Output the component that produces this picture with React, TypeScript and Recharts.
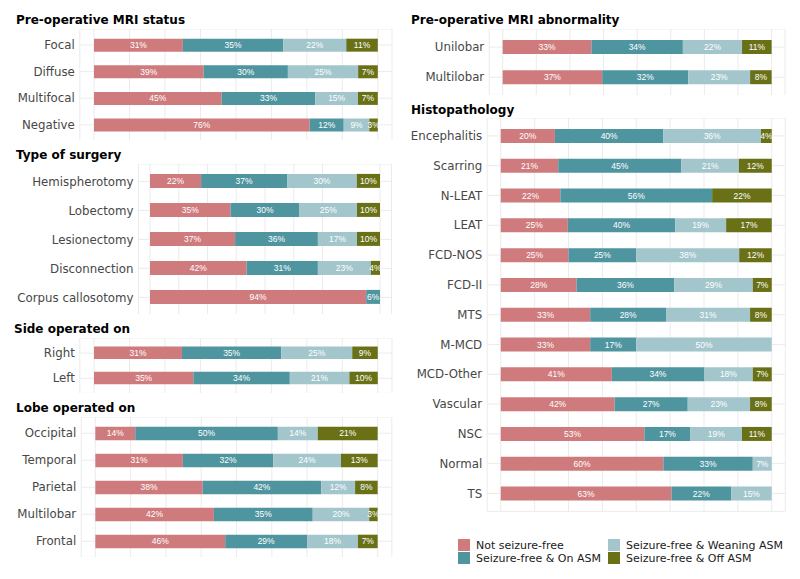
import React from 'react';
import { BarChart, Bar, XAxis, YAxis, CartesianGrid, LabelList } from 'recharts';

// categories + rounded percentages
const mriStatusCats = ['Focal', 'Diffuse', 'Multifocal', 'Negative'];
const mriStatusNot = [31, 39, 45, 76];
const mriStatusOn = [35, 30, 33, 12];
const mriStatusWean = [22, 25, 15, 9];
const mriStatusOff = [11, 7, 7, 3];

const surgeryCats = ['Hemispherotomy', 'Lobectomy', 'Lesionectomy', 'Disconnection', 'Corpus callosotomy'];
const surgeryNot = [22, 35, 37, 42, 94];
const surgeryOn = [37, 30, 36, 31, 6];
const surgeryWean = [30, 25, 17, 23, 0];
const surgeryOff = [10, 10, 10, 4, 0];

const sideCats = ['Right', 'Left'];
const sideNot = [31, 35];
const sideOn = [35, 34];
const sideWean = [25, 21];
const sideOff = [9, 10];

const lobeCats = ['Occipital', 'Temporal', 'Parietal', 'Multilobar', 'Frontal'];
const lobeNot = [14, 31, 38, 42, 46];
const lobeOn = [50, 32, 42, 35, 29];
const lobeWean = [14, 24, 12, 20, 18];
const lobeOff = [21, 13, 8, 3, 7];

const abnormalityCats = ['Unilobar', 'Multilobar'];
const abnormalityNot = [33, 37];
const abnormalityOn = [34, 32];
const abnormalityWean = [22, 23];
const abnormalityOff = [11, 8];

const histoCats = ['Encephalitis', 'Scarring', 'N-LEAT', 'LEAT', 'FCD-NOS', 'FCD-II', 'MTS', 'M-MCD', 'MCD-Other', 'Vascular', 'NSC', 'Normal', 'TS'];
const histoNot = [20, 21, 22, 25, 25, 28, 33, 33, 41, 42, 53, 60, 63];
const histoOn = [40, 45, 56, 40, 25, 36, 28, 17, 34, 27, 17, 33, 22];
const histoWean = [36, 21, 0, 19, 38, 29, 31, 50, 18, 23, 19, 7, 15];
const histoOff = [4, 12, 22, 17, 12, 7, 8, 0, 7, 8, 11, 0, 0];

const gridTicks = [0, 12.5, 25, 37.5, 50, 62.5, 75, 87.5, 100];

const SERIES = [
  { key: 'notSF', name: 'Not seizure-free', color: '#CF7B7D' },
  { key: 'onASM', name: 'Seizure-free & On ASM', color: '#4F959F' },
  { key: 'wean', name: 'Seizure-free & Weaning ASM', color: '#A3C6CC' },
  { key: 'offASM', name: 'Seizure-free & Off ASM', color: '#697016' },
];

const buildRows = (cats: string[], a: number[], b: number[], c: number[], d: number[]) =>
  cats.map((name, i) => {
    const total = a[i] + b[i] + c[i] + d[i];
    return {
      name,
      notSF: (a[i] / total) * 100,
      onASM: (b[i] / total) * 100,
      wean: (c[i] / total) * 100,
      offASM: (d[i] / total) * 100,
      notSFPct: a[i],
      onASMPct: b[i],
      weanPct: c[i],
      offASMPct: d[i],
    };
  });

interface PanelProps {
  title: string;
  titleX: number;
  titleY: number;
  rows: any[];
  left: number;
  top: number;
  bottom: number;
  axisWidth: number;
  rightMargin: number;
  barSize: number;
}

const Panel = ({ title, titleX, titleY, rows, left, top, bottom, axisWidth, rightMargin, barSize }: PanelProps) => {
  const h = bottom - top;
  const spacing = h / (rows.length + 0.2);
  const pad = spacing * 0.1;
  return (
    <>
      <div
        style={{
          position: 'absolute',
          left: titleX,
          top: titleY - 8,
          fontSize: 12,
          lineHeight: '16px',
          fontWeight: 'bold',
          color: '#000',
          whiteSpace: 'nowrap',
        }}
      >
        {title}
      </div>
      <div style={{ position: 'absolute', left, top }}>
        <BarChart
          width={400}
          height={h}
          data={rows}
          layout="vertical"
          margin={{ top: 0, right: rightMargin, bottom: 0, left: 0 }}
        >
          <CartesianGrid stroke="#EBEBEB" />
          <XAxis type="number" domain={[-5, 105]} ticks={gridTicks} hide />
          <YAxis
            type="category"
            dataKey="name"
            width={axisWidth}
            axisLine={false}
            tickLine={false}
            tickSize={0}
            tickMargin={5}
            interval={0}
            padding={{ top: pad, bottom: pad }}
            tick={{ fill: '#474747', fontSize: 11.8, fontFamily: 'DejaVu Sans' }}
          />
          {SERIES.map((s) => (
            <Bar key={s.key} dataKey={s.key} name={s.name} stackId="a" fill={s.color} barSize={barSize} isAnimationActive={false}>
              <LabelList
                dataKey={s.key + 'Pct'}
                position="center"
                fill="#FFFFFF"
                fontSize={8.5}
                fontFamily="Liberation Sans, Arial, sans-serif"
                formatter={(v: any) => (v ? `${v}%` : '')}
              />
            </Bar>
          ))}
        </BarChart>
      </div>
    </>
  );
};

const App = () => {
  return (
    <div style={{ position: 'relative', width: 800, height: 579, background: '#fff', fontFamily: 'DejaVu Sans', overflow: 'hidden' }}>
      <style>{'body{margin:0}'}</style>
      <Panel
        title="Pre-operative MRI status"
        titleX={16}
        titleY={20}
        rows={buildRows(mriStatusCats, mriStatusNot, mriStatusOn, mriStatusWean, mriStatusOff)}
        left={0}
        top={28.7}
        bottom={140.5}
        axisWidth={79.8}
        rightMargin={8}
        barSize={13}
      />
      <Panel
        title="Type of surgery"
        titleX={16}
        titleY={155}
        rows={buildRows(surgeryCats, surgeryNot, surgeryOn, surgeryWean, surgeryOff)}
        left={0}
        top={163.6}
        bottom={314.4}
        axisWidth={138.5}
        rightMargin={8.5}
        barSize={14}
      />
      <Panel
        title="Side operated on"
        titleX={14}
        titleY={329}
        rows={buildRows(sideCats, sideNot, sideOn, sideWean, sideOff)}
        left={0}
        top={337.9}
        bottom={393.3}
        axisWidth={79.8}
        rightMargin={8}
        barSize={12.5}
      />
      <Panel
        title="Lobe operated on"
        titleX={16}
        titleY={408}
        rows={buildRows(lobeCats, lobeNot, lobeOn, lobeWean, lobeOff)}
        left={0}
        top={416.5}
        bottom={556.9}
        axisWidth={81.2}
        rightMargin={8.2}
        barSize={13.5}
      />
      <Panel
        title="Pre-operative MRI abnormality"
        titleX={411}
        titleY={20}
        rows={buildRows(abnormalityCats, abnormalityNot, abnormalityOn, abnormalityWean, abnormalityOff)}
        left={400}
        top={28.9}
        bottom={95.3}
        axisWidth={89.2}
        rightMargin={14.9}
        barSize={14}
      />
      <Panel
        title="Histopathology"
        titleX={411}
        titleY={110}
        rows={buildRows(histoCats, histoNot, histoOn, histoWean, histoOff)}
        left={400}
        top={118.4}
        bottom={511.7}
        axisWidth={87.2}
        rightMargin={14.7}
        barSize={14}
      />
      {/* shared legend, two columns */}
      {SERIES.map((s, i) => {
        const col = Math.floor(i / 2);
        const row = i % 2;
        return (
          <div
            key={s.key}
            style={{
              position: 'absolute',
              left: col === 0 ? 458 : 608,
              top: 539 + row * 13,
              display: 'flex',
              alignItems: 'center',
              height: 12,
              fontSize: 11,
              color: '#1A1A1A',
              whiteSpace: 'nowrap',
            }}
          >
            <span style={{ display: 'inline-block', width: 12, height: 12, background: s.color, marginRight: 6 }} />
            {s.name}
          </div>
        );
      })}
    </div>
  );
};

export default App;
